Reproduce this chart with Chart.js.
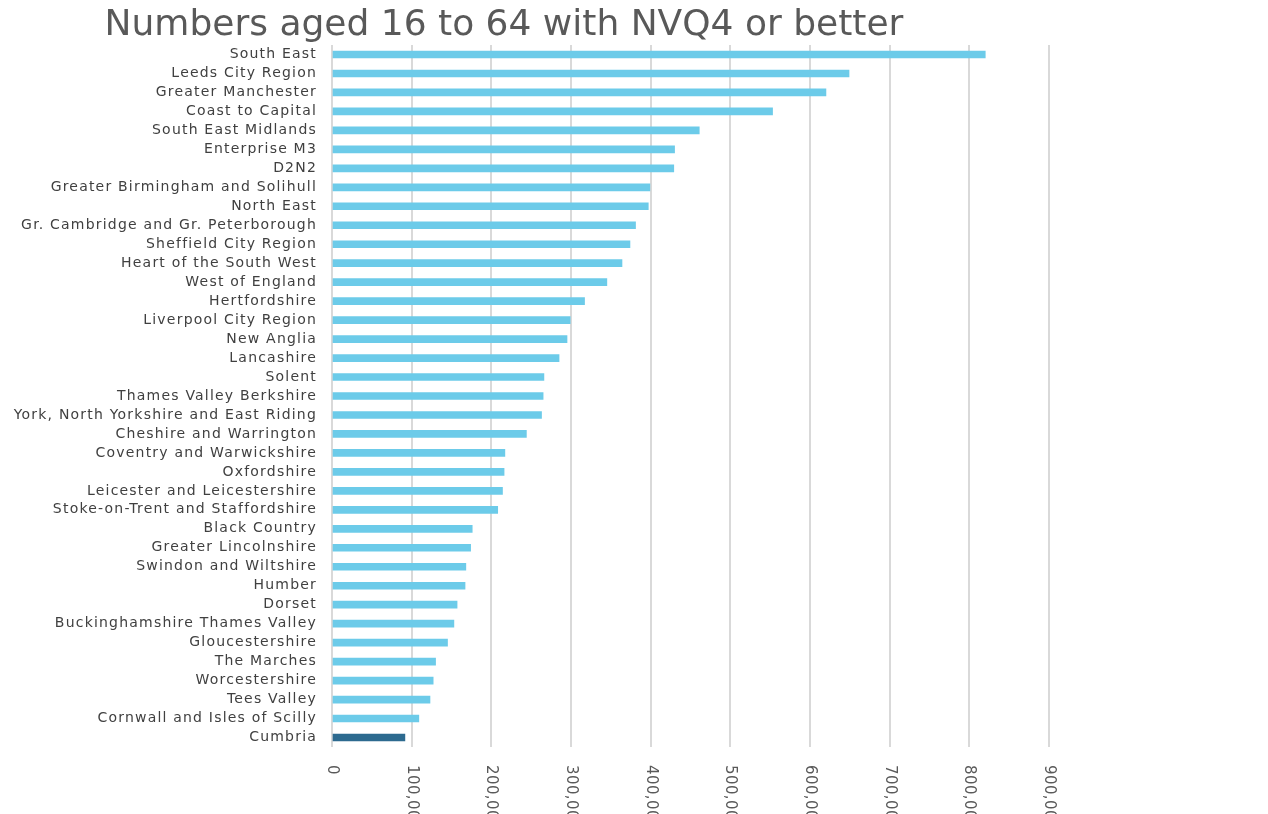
<!DOCTYPE html>
<html>
<head>
<meta charset="utf-8">
<script src="https://cdn.jsdelivr.net/npm/chart.js@4"></script>
<style>
  html, body { margin: 0; padding: 0; background: #fff; }
  #wrap { width: 1268px; height: 814px; }
</style>
</head>
<body>
<div id="wrap"><canvas id="barChart" width="1268" height="814"></canvas></div>
<script>
// LEP areas, largest first
const areas = [
    'South East', 'Leeds City Region', 'Greater Manchester', 'Coast to Capital',
    'South East Midlands', 'Enterprise M3', 'D2N2', 'Greater Birmingham and Solihull',
    'North East', 'Gr. Cambridge and Gr. Peterborough', 'Sheffield City Region',
    'Heart of the South West', 'West of England', 'Hertfordshire', 'Liverpool City Region',
    'New Anglia', 'Lancashire', 'Solent', 'Thames Valley Berkshire',
    'York, North Yorkshire and East Riding', 'Cheshire and Warrington',
    'Coventry and Warwickshire', 'Oxfordshire', 'Leicester and Leicestershire',
    'Stoke-on-Trent and Staffordshire', 'Black Country', 'Greater Lincolnshire',
    'Swindon and Wiltshire', 'Humber', 'Dorset', 'Buckinghamshire Thames Valley',
    'Gloucestershire', 'The Marches', 'Worcestershire', 'Tees Valley',
    'Cornwall and Isles of Scilly', 'Cumbria'
];

// people aged 16-64 with NVQ4+
const nvq4 = [
    820000, 649000, 620000, 553000, 461000, 430000, 429000, 399000,
    397000, 381000, 374000, 364000, 345000, 317000, 299000,
    295000, 285000, 266000, 265000, 263000, 244000,
    217000, 216000, 214000, 208000, 176000, 174000,
    168000, 167000, 157000, 153000, 145000, 130000, 127000, 123000,
    109000, 91500
];

const xTicks = [0, 100000, 200000, 300000, 400000, 500000, 600000, 700000, 800000, 900000];

const barColours = areas.map(a => a === 'Cumbria' ? '#2d6a8f' : '#6ccbe9');

// spaced-out category labels, then title + rotated (clockwise) x tick labels
const extraText = {
    id: 'extraText',
    beforeDraw(chart) {
        chart.ctx.letterSpacing = '1.2px';
    },
    beforeDatasetsDraw(chart) {
        chart.ctx.letterSpacing = '0px';
    },
    afterDraw(chart) {
        const ctx = chart.ctx;
        const xs = chart.scales.x;
        ctx.save();
        ctx.letterSpacing = '0px';
        ctx.fillStyle = '#595959';
        ctx.font = '36px "DejaVu Sans"';
        ctx.textAlign = 'center';
        ctx.textBaseline = 'alphabetic';
        ctx.fillText('Numbers aged 16 to 64 with NVQ4 or better', 504, 35);

        ctx.font = '15px "DejaVu Sans"';
        ctx.letterSpacing = '0.4px';
        ctx.textAlign = 'left';
        ctx.textBaseline = 'middle';
        xTicks.forEach(v => {
            const px = xs.getPixelForValue(v);
            ctx.save();
            ctx.translate(px, 765);
            ctx.rotate(Math.PI / 2);
            ctx.fillText(v.toLocaleString('en-GB'), 0, 0);
            ctx.restore();
        });
        ctx.restore();
    }
};

new Chart(document.getElementById('barChart').getContext('2d'), {
    type: 'bar',
    data: {
        labels: areas,
        datasets: [{
            data: nvq4,
            backgroundColor: barColours,
            barThickness: 7
        }]
    },
    options: {
        indexAxis: 'y',
        responsive: false,
        animation: false,
        layout: { padding: { top: 45, right: 219, left: 0, bottom: 0 } },
        plugins: {
            legend: { display: false },
            title: { display: false },
            tooltip: { enabled: false }
        },
        scales: {
            x: {
                min: 0,
                max: 900000,
                afterBuildTicks: s => { s.ticks = xTicks.map(v => ({ value: v })); },
                afterFit: s => { s.height = 67; },
                ticks: { display: false },
                grid: { color: '#d9d9d9', lineWidth: 2, drawTicks: false },
                border: { display: false }
            },
            y: {
                afterFit: s => { s.width = 332; },
                ticks: {
                    color: '#404040',
                    font: { family: 'DejaVu Sans', size: 14 },
                    padding: 15,
                    autoSkip: false
                },
                grid: { display: false, drawTicks: false },
                border: { display: false }
            }
        }
    },
    plugins: [extraText]
});
</script>
</body>
</html>
